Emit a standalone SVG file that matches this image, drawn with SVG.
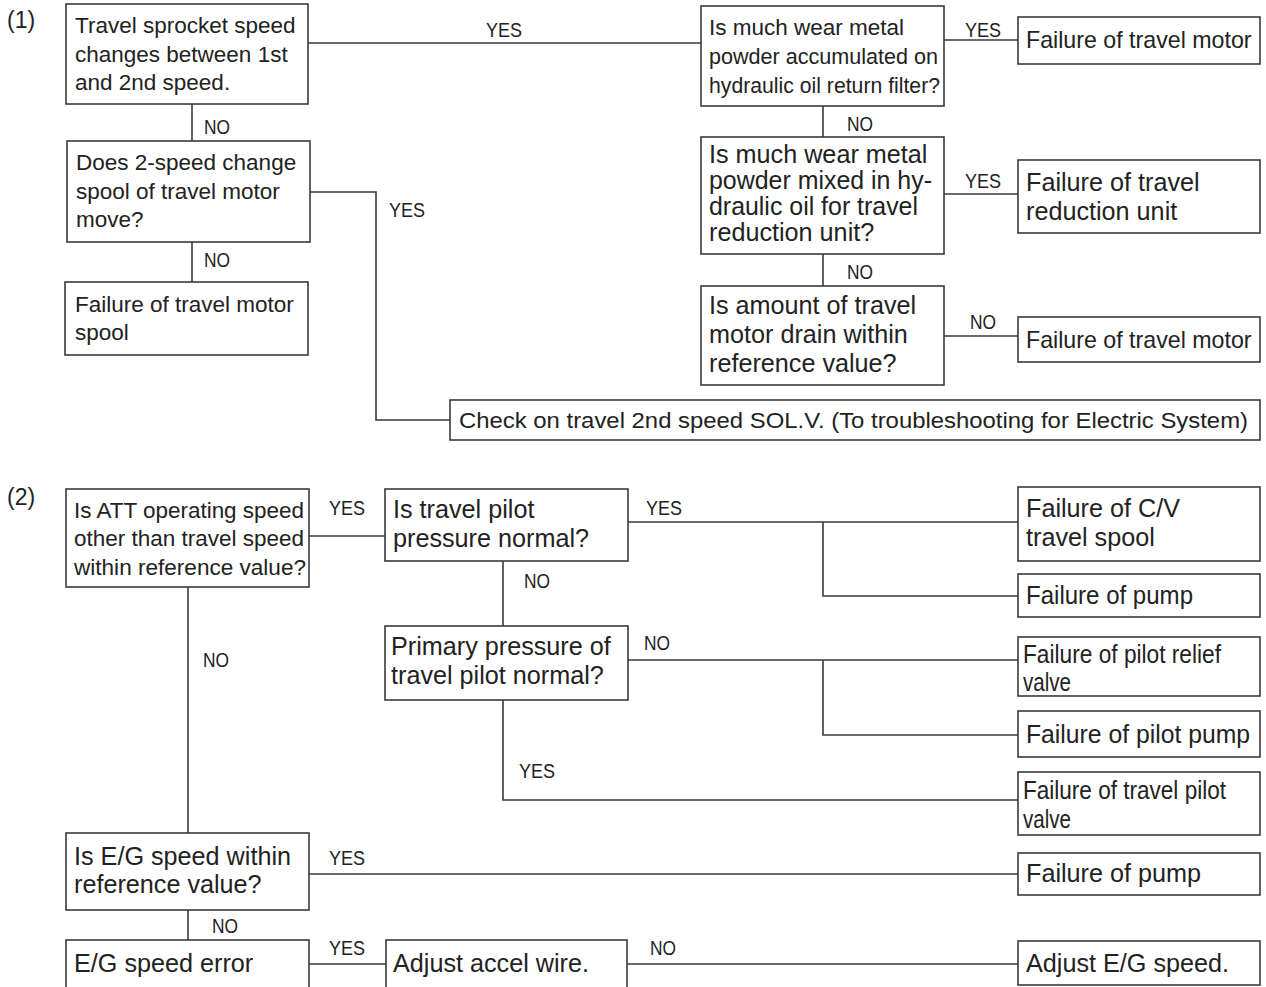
<svg xmlns="http://www.w3.org/2000/svg" width="1266" height="987" viewBox="0 0 1266 987">
<style>
.box{fill:#fff;stroke:#3a3a3a;stroke-width:1.6}
.t{font-family:"Liberation Sans",Arial,sans-serif;font-size:22.5px;fill:#222}
.te{font-family:"Liberation Sans",Arial,sans-serif;font-size:23.2px;fill:#222}
.tb{font-family:"Liberation Sans",Arial,sans-serif;font-size:25.2px;fill:#222}
.lbl{font-family:"Liberation Sans",Arial,sans-serif;font-size:20.5px;fill:#222;text-anchor:middle}
.sec{font-family:"Liberation Sans",Arial,sans-serif;font-size:23px;fill:#222}
.c{fill:none;stroke:#3a3a3a;stroke-width:1.6}
</style>
<rect width="1266" height="987" fill="#fff"/>
<text class="sec" x="7" y="28">(1)</text>
<text class="sec" x="7" y="505">(2)</text>
<g id="connectors">
<path class="c" d="M308 43H701"/>
<path class="c" d="M192 104V141"/>
<path class="c" d="M310 192H376V420H450"/>
<path class="c" d="M192 242V282"/>
<path class="c" d="M944 40H1018"/>
<path class="c" d="M823 106V137"/>
<path class="c" d="M944 194H1018"/>
<path class="c" d="M823 254V286"/>
<path class="c" d="M944 336H1018"/>
<path class="c" d="M309 536H385"/>
<path class="c" d="M628 522H1018M823 522V596H1018"/>
<path class="c" d="M503 561V626"/>
<path class="c" d="M628 660H1018M823 660V735H1018"/>
<path class="c" d="M503 700V800H1018"/>
<path class="c" d="M188 587V833"/>
<path class="c" d="M309 874H1018"/>
<path class="c" d="M188 910V940"/>
<path class="c" d="M309 964H386"/>
<path class="c" d="M627 964H1018"/>
</g>
<g id="labels">
<text class="lbl" x="504" y="37" textLength="36" lengthAdjust="spacingAndGlyphs">YES</text>
<text class="lbl" x="217" y="134" textLength="26" lengthAdjust="spacingAndGlyphs">NO</text>
<text class="lbl" x="407" y="217" textLength="36" lengthAdjust="spacingAndGlyphs">YES</text>
<text class="lbl" x="217" y="267" textLength="26" lengthAdjust="spacingAndGlyphs">NO</text>
<text class="lbl" x="983" y="37" textLength="36" lengthAdjust="spacingAndGlyphs">YES</text>
<text class="lbl" x="860" y="131" textLength="26" lengthAdjust="spacingAndGlyphs">NO</text>
<text class="lbl" x="983" y="188" textLength="36" lengthAdjust="spacingAndGlyphs">YES</text>
<text class="lbl" x="860" y="279" textLength="26" lengthAdjust="spacingAndGlyphs">NO</text>
<text class="lbl" x="983" y="329" textLength="26" lengthAdjust="spacingAndGlyphs">NO</text>
<text class="lbl" x="347" y="515" textLength="36" lengthAdjust="spacingAndGlyphs">YES</text>
<text class="lbl" x="664" y="515" textLength="36" lengthAdjust="spacingAndGlyphs">YES</text>
<text class="lbl" x="537" y="588" textLength="26" lengthAdjust="spacingAndGlyphs">NO</text>
<text class="lbl" x="657" y="650" textLength="26" lengthAdjust="spacingAndGlyphs">NO</text>
<text class="lbl" x="537" y="778" textLength="36" lengthAdjust="spacingAndGlyphs">YES</text>
<text class="lbl" x="216" y="667" textLength="26" lengthAdjust="spacingAndGlyphs">NO</text>
<text class="lbl" x="347" y="865" textLength="36" lengthAdjust="spacingAndGlyphs">YES</text>
<text class="lbl" x="225" y="933" textLength="26" lengthAdjust="spacingAndGlyphs">NO</text>
<text class="lbl" x="347" y="955" textLength="36" lengthAdjust="spacingAndGlyphs">YES</text>
<text class="lbl" x="663" y="955" textLength="26" lengthAdjust="spacingAndGlyphs">NO</text>
</g>
<g id="nodeA"><rect class="box" x="66" y="4" width="242" height="100"/>
<text class="t" x="75" y="33">Travel sprocket speed</text>
<text class="t" x="75" y="62">changes between 1st</text>
<text class="t" x="75" y="90">and 2nd speed.</text></g>
<g id="nodeB"><rect class="box" x="67" y="141" width="243" height="101"/>
<text class="t" x="76" y="170">Does 2-speed change</text>
<text class="t" x="76" y="199">spool of travel motor</text>
<text class="t" x="76" y="227">move?</text></g>
<g id="nodeC"><rect class="box" x="65" y="282" width="243" height="73"/>
<text class="t" x="75" y="312">Failure of travel motor</text>
<text class="t" x="75" y="340">spool</text></g>
<g id="nodeD"><rect class="box" x="701" y="6" width="243" height="100"/>
<text class="t" x="709" y="35">Is much wear metal</text>
<text class="t" x="709" y="64" textLength="229" lengthAdjust="spacingAndGlyphs">powder accumulated on</text>
<text class="t" x="709" y="93" textLength="231" lengthAdjust="spacingAndGlyphs">hydraulic oil return filter?</text></g>
<g id="nodeE"><rect class="box" x="1018" y="17" width="242" height="47"/>
<text class="te" x="1026" y="48">Failure of travel motor</text></g>
<g id="nodeF"><rect class="box" x="701" y="137" width="243" height="117"/>
<text class="tb" x="709" y="163">Is much wear metal</text>
<text class="tb" x="709" y="189" textLength="223" lengthAdjust="spacingAndGlyphs">powder mixed in hy-</text>
<text class="tb" x="709" y="215" textLength="209" lengthAdjust="spacingAndGlyphs">draulic oil for travel</text>
<text class="tb" x="709" y="241">reduction unit?</text></g>
<g id="nodeG"><rect class="box" x="1018" y="160" width="242" height="73"/>
<text class="tb" x="1026" y="191">Failure of travel</text>
<text class="tb" x="1026" y="220">reduction unit</text></g>
<g id="nodeH"><rect class="box" x="701" y="286" width="243" height="99"/>
<text class="tb" x="709" y="314">Is amount of travel</text>
<text class="tb" x="709" y="343">motor drain within</text>
<text class="tb" x="709" y="372">reference value?</text></g>
<g id="nodeI"><rect class="box" x="1018" y="317" width="242" height="45"/>
<text class="te" x="1026" y="348">Failure of travel motor</text></g>
<g id="nodeJ"><rect class="box" x="450" y="400" width="810" height="40"/>
<text class="t" x="459" y="428" textLength="789" lengthAdjust="spacingAndGlyphs">Check on travel 2nd speed SOL.V. (To troubleshooting for Electric System)</text></g>
<g id="nodeK"><rect class="box" x="66" y="489" width="243" height="98"/>
<text class="t" x="74" y="518" textLength="230" lengthAdjust="spacingAndGlyphs">Is ATT operating speed</text>
<text class="t" x="74" y="546" textLength="230" lengthAdjust="spacingAndGlyphs">other than travel speed</text>
<text class="t" x="74" y="575" textLength="232" lengthAdjust="spacingAndGlyphs">within reference value?</text></g>
<g id="nodeL"><rect class="box" x="385" y="489" width="243" height="72"/>
<text class="tb" x="393" y="518">Is travel pilot</text>
<text class="tb" x="393" y="547">pressure normal?</text></g>
<g id="nodeM"><rect class="box" x="1018" y="487" width="242" height="74"/>
<text class="tb" x="1026" y="517">Failure of C/V</text>
<text class="tb" x="1026" y="546">travel spool</text></g>
<g id="nodeN"><rect class="box" x="1018" y="574" width="242" height="43"/>
<text class="tb" x="1026" y="604" textLength="167" lengthAdjust="spacingAndGlyphs">Failure of pump</text></g>
<g id="nodeO"><rect class="box" x="385" y="626" width="243" height="74"/>
<text class="tb" x="391" y="655">Primary pressure of</text>
<text class="tb" x="391" y="684">travel pilot normal?</text></g>
<g id="nodeP"><rect class="box" x="1018" y="637" width="242" height="59"/>
<text class="tb" x="1023" y="663" textLength="198" lengthAdjust="spacingAndGlyphs">Failure of pilot relief</text>
<text class="tb" x="1023" y="691" textLength="48" lengthAdjust="spacingAndGlyphs">valve</text></g>
<g id="nodeQ"><rect class="box" x="1018" y="711" width="242" height="46"/>
<text class="tb" x="1026" y="743" textLength="224" lengthAdjust="spacingAndGlyphs">Failure of pilot pump</text></g>
<g id="nodeR"><rect class="box" x="1018" y="772" width="242" height="63"/>
<text class="tb" x="1023" y="799" textLength="203" lengthAdjust="spacingAndGlyphs">Failure of travel pilot</text>
<text class="tb" x="1023" y="828" textLength="48" lengthAdjust="spacingAndGlyphs">valve</text></g>
<g id="nodeS"><rect class="box" x="66" y="833" width="243" height="77"/>
<text class="tb" x="74" y="865">Is E/G speed within</text>
<text class="tb" x="74" y="893">reference value?</text></g>
<g id="nodeT"><rect class="box" x="1018" y="853" width="242" height="42"/>
<text class="tb" x="1026" y="882">Failure of pump</text></g>
<g id="nodeU"><rect class="box" x="66" y="940" width="243" height="60"/>
<text class="tb" x="74" y="972">E/G speed error</text></g>
<g id="nodeV"><rect class="box" x="386" y="940" width="241" height="60"/>
<text class="tb" x="393" y="972">Adjust accel wire.</text></g>
<g id="nodeW"><rect class="box" x="1018" y="941" width="242" height="44"/>
<text class="tb" x="1026" y="972">Adjust E/G speed.</text></g>
</svg>
